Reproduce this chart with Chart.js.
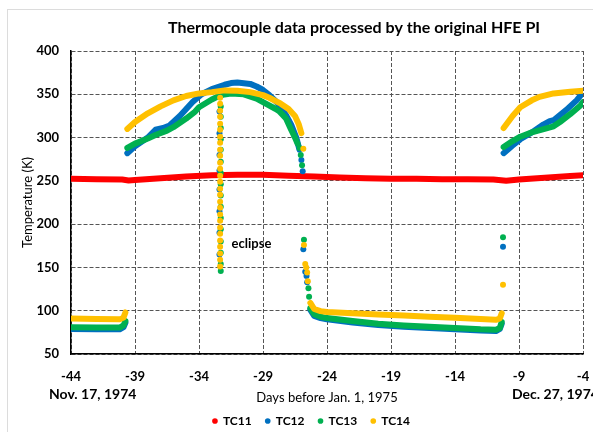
<!DOCTYPE html>
<html>
<head>
<meta charset="utf-8">
<script src="https://cdn.jsdelivr.net/npm/chart.js@4.4.1/dist/chart.umd.min.js"></script>
<style>
  html, body { margin: 0; padding: 0; background: #fff; }
</style>
</head>
<body>
<canvas id="myChart" width="593" height="432"></canvas>
<script>
// x ticks (days before Jan 1, 1975)
var xTicks = [-44, -39, -34, -29, -24, -19, -14, -9, -4];

// null = gap between measurement segments
var tc11Day = [-44, -42, -40, -39.5, -39, -37, -35, -33, -31, -29, -27, -25, -23, -21, -19, -17, -15, -13, -11, -10, -9, -7, -5, -4];
var tc11Temp = [252.5, 252, 251.5, 250.5, 251, 253, 255, 256.5, 257, 257, 256, 255, 254, 253, 252.5, 252.5, 252, 252, 251.5, 250, 251.5, 253.5, 255.5, 256.5];

var tc12Day = [-44, -42, -40.2, -39.9, -39.75, null,
  -39.6, -39, -38, -37.4, -36.8, -36.3, -35.5, -35, -34.5, -33.8, -33, -32, -31.5, -31, -30, -29.5, -29, -28.5, -28, -27.7, -27.2, -26.8, -26.4, -26.15, null,
  -25.3, -25, -24.5, -24, -22, -20, -18, -16, -14, -12, -10.8, -10.5, -10.35, null,
  -10.2, -9.5, -8.9, -8, -7.1, -6.6, -6.3, -5.3, -4.5, -4];
var tc12Temp = [79, 78.5, 78.5, 81, 86, null,
  282, 290, 300, 309, 311, 314, 325, 333, 341, 350, 356, 361, 363, 363.5, 362, 359, 355, 349, 342, 337, 326, 315, 300, 286, null,
  101, 94, 91.5, 90, 86.5, 83.5, 81.5, 80, 78.5, 77, 76.5, 79, 85, null,
  282, 291, 298, 306, 315, 319, 320, 332, 343, 352];

var tc13Day = [-44, -42, -40.2, -39.9, -39.75, null,
  -39.6, -39, -38, -37.4, -36.5, -36, -35, -34.3, -34, -33, -32.3, -31.5, -30.5, -29.5, -29, -28, -27.7, -27.2, -26.8, -26.5, -26.3, null,
  -25.3, -25, -24.5, -24, -22, -20, -18, -16, -14, -12, -10.8, -10.5, -10.35, null,
  -10.2, -9.5, -8.9, -8, -7, -6.3, -5.8, -5, -4.2, -4];
var tc13Temp = [81, 80.5, 80.5, 83, 88, null,
  288, 293, 299, 303, 308, 312, 322, 330, 335, 344, 349, 351, 350, 345, 341, 333, 330, 322, 309, 300, 293, null,
  103, 96, 93, 91.5, 88, 85, 83, 81.5, 80, 78.5, 78, 80, 87, null,
  289, 296, 301, 306, 310, 313, 318, 327, 337, 341];

var tc14Day = [-44, -42, -40.2, -39.9, -39.75, null,
  -39.6, -39, -38, -37, -36, -35, -34, -33, -32, -31, -30, -29, -28.5, -28, -27.7, -27, -26.5, -26.2, -26, null,
  -25.3, -25, -24.5, -24, -22, -20, -18, -16, -14, -12, -10.8, -10.5, -10.35, null,
  -10.2, -9.5, -8.9, -8, -7.4, -6.3, -5, -4];
var tc14Temp = [91, 90.5, 90, 92, 98, null,
  310, 318, 328, 336, 343, 348, 351, 352.5, 354.5, 354, 352.5, 349, 346, 342, 340, 333, 325, 315, 305, null,
  109, 102, 99.5, 98.5, 97, 95.5, 94.5, 93, 91.8, 90.5, 89.5, 91, 97, null,
  311, 325, 335, 343, 347, 351, 353, 354];

// scattered single readings (eclipse drop, transitions)
var eclipseDay = -32.35;
var tc12EclipseTemp = [350, 330, 305, 280, 262, 240, 215, 190, 165];
var tc13EclipseTemp = [348, 336, 324, 311, 298, 286, 272, 259, 246, 233, 220, 207, 194, 180, 167, 154, 146];
var tc14EclipseTemp = [346, 339, 331, 324, 316, 309, 301, 294, 286, 279, 271, 264, 256, 249, 241, 234, 226, 219, 211, 204, 196, 189, 181, 174, 166, 159, 151];

var tc12DotDay = [-26.0, -25.9, -25.85, -25.7, -25.6, -25.55, -10.25];
var tc12DotTemp = [274, 261, 171, 145, 140, 133, 174];
var tc13DotDay = [-26.15, -26.05, -25.95, -25.8, -25.45, -25.4, -10.25];
var tc13DotTemp = [288, 280, 268, 182, 126, 116, 185];
var tc14DotDay = [-25.85, -25.8, -25.7, -25.62, -25.55, -25.5, -10.25];
var tc14DotTemp = [287, 176, 154, 150, 144, 134, 130];

var seriesNames = ["TC11", "TC12", "TC13", "TC14"];
var seriesColors = ["rgb(255,0,0)", "rgb(0,112,192)", "rgb(0,176,80)", "rgb(255,192,0)"];

var chartTitle = "Thermocouple data processed by the original HFE PI";
var startLabel = "Nov. 17, 1974";
var endLabel = "Dec. 27, 1974";
var eclipseNote = { text: "eclipse", x: -29.9, y: 177 };

var FONT = "Lato, 'Open Sans', sans-serif";

function points(days, temps) {
  return days.map(function (d, i) { return { x: d, y: temps[i] }; });
}
function eclipsePoints(temps, dx) {
  return temps.map(function (t) { return { x: eclipseDay + dx, y: t }; });
}

function lineSet(i, data) {
  return {
    label: seriesNames[i],
    data: data,
    borderColor: seriesColors[i],
    backgroundColor: seriesColors[i],
    borderWidth: 6,
    borderCapStyle: "round",
    borderJoinStyle: "round",
    pointRadius: 0,
    tension: 0,
    spanGaps: false,
    order: 4 - i,
  };
}
function dotSet(i, data) {
  return {
    label: seriesNames[i] + " dots",
    data: data,
    showLine: false,
    borderColor: seriesColors[i],
    backgroundColor: seriesColors[i],
    borderWidth: 0,
    pointRadius: 3,
    order: 4 - i,
  };
}

var annotate = {
  id: "annotate",
  beforeDraw: function (chart) {
    var ctx = chart.ctx;
    ctx.save();
    ctx.strokeStyle = "#dcdcdc";
    ctx.lineWidth = 1;
    ctx.strokeRect(7.5, 9.5, 700, 500);
    ctx.restore();
  },
  afterDraw: function (chart) {
    var ctx = chart.ctx, x = chart.scales.x, y = chart.scales.y;
    ctx.save();
    ctx.fillStyle = "#000";
    ctx.textBaseline = "middle";
    ctx.textAlign = "center";
    ctx.font = "bold 16px " + FONT;
    ctx.fillText(chartTitle, 354, 28);
    ctx.font = "bold 14px " + FONT;
    ctx.textAlign = "left";
    ctx.fillText(startLabel, x.left - 22, 394);
    ctx.fillText(endLabel, x.right - 71, 394);
    ctx.font = "bold 13px " + FONT;
    ctx.textAlign = "center";
    ctx.fillText(eclipseNote.text, x.getPixelForValue(eclipseNote.x), y.getPixelForValue(eclipseNote.y));
    ctx.restore();
  },
  afterLayout: function (chart) {
    // nudge the legend row to where the original sits
    chart.legend.top += 5;
    chart.legend.bottom += 5;
    chart.legend.left += 20;
    chart.legend.right += 20;
  },
};

var ctx = document.getElementById("myChart").getContext("2d");
var myChart = new Chart(ctx, {
  type: "line",
  data: {
    datasets: [
      lineSet(0, points(tc11Day, tc11Temp)),
      lineSet(1, points(tc12Day, tc12Temp)),
      lineSet(2, points(tc13Day, tc13Temp)),
      lineSet(3, points(tc14Day, tc14Temp)),
      dotSet(1, points(tc12DotDay, tc12DotTemp).concat(eclipsePoints(tc12EclipseTemp, -0.05))),
      dotSet(2, points(tc13DotDay, tc13DotTemp).concat(eclipsePoints(tc13EclipseTemp, 0.05))),
      dotSet(3, points(tc14DotDay, tc14DotTemp).concat(eclipsePoints(tc14EclipseTemp, 0))),
    ],
  },
  options: {
    responsive: false,
    animation: false,
    events: [],
    layout: { padding: { top: 51, right: 10, left: 0, bottom: 0 } },
    scales: {
      x: {
        type: "linear",
        min: -44,
        max: -4,
        afterBuildTicks: function (s) {
          s.ticks = xTicks.map(function (v) { return { value: v }; });
        },
        afterFit: function (s) {
          s.height = 42;
          s.paddingLeft = 0;
          s.paddingRight = 0;
        },
        ticks: {
          color: "#000",
          font: { family: FONT, size: 13, weight: "bold" },
          padding: 15,
          maxRotation: 0,
          autoSkip: false,
        },
        grid: { color: "#555", lineWidth: 1, drawTicks: false },
        border: { display: true, color: "#000", width: 1.5, dash: [4, 2] },
        title: {
          display: true,
          text: "Days before Jan. 1, 1975",
          color: "#000",
          font: { family: FONT, size: 13 },
          padding: { top: 0, bottom: -10 },
        },
      },
      y: {
        min: 50,
        max: 400,
        afterFit: function (s) { s.width = 71; },
        ticks: {
          stepSize: 50,
          color: "#000",
          font: { family: FONT, size: 13, weight: "bold" },
          padding: 12,
        },
        grid: { color: "#555", lineWidth: 1, drawTicks: false },
        border: { display: true, color: "#000", width: 1.5, dash: [4, 2] },
        title: {
          display: true,
          text: "Temperature (K)",
          color: "#000",
          font: { family: FONT, size: 13 },
          padding: { top: 20, bottom: 0 },
        },
      },
    },
    plugins: {
      title: { display: false },
      tooltip: { enabled: false },
      legend: {
        position: "bottom",
        labels: {
          usePointStyle: true,
          pointStyle: "circle",
          boxWidth: 4,
          boxHeight: 4,
          padding: 14,
          color: "#000",
          font: { family: FONT, size: 12, weight: "bold" },
          generateLabels: function (chart) {
            return Chart.defaults.plugins.legend.labels.generateLabels(chart)
              .filter(function (l) { return l.datasetIndex < 4; })
              .sort(function (a, b) { return a.datasetIndex - b.datasetIndex; })
              .map(function (l) { l.lineWidth = 0; return l; });
          },
        },
      },
    },
  },
  plugins: [annotate],
});
</script>
</body>
</html>
